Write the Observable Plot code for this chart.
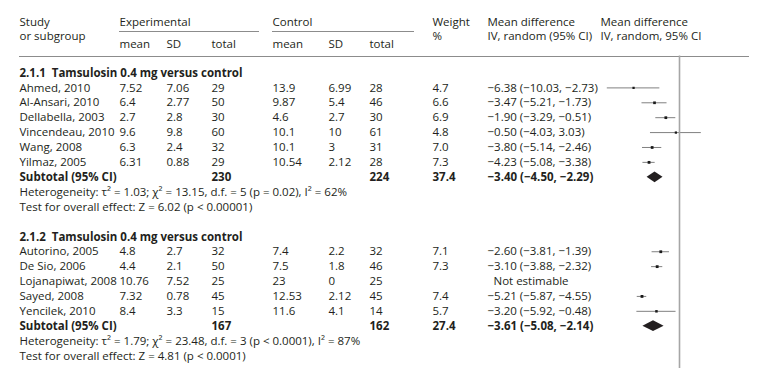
<!DOCTYPE html>
<html>
<head>
<meta charset="utf-8">
<script src="https://cdn.jsdelivr.net/npm/d3@7"></script>
<script src="https://cdn.jsdelivr.net/npm/@observablehq/plot@0.6"></script>
<style>
  html, body { margin: 0; padding: 0; background: #fff; }
  #chart { width: 765px; height: 368px; }
</style>
</head>
<body>
<div id="chart"></div>
<script>
// ---------- data ----------
const groupIds     = ["2.1.1", "2.1.2"];
const groupTitles  = ["2.1.1  Tamsulosin 0.4 mg versus control", "2.1.2  Tamsulosin 0.4 mg versus control"];
const studyGroup   = ["2.1.1","2.1.1","2.1.1","2.1.1","2.1.1","2.1.1","2.1.2","2.1.2","2.1.2","2.1.2","2.1.2"];
const studyNames   = ["Ahmed, 2010","Al-Ansari, 2010","Dellabella, 2003","Vincendeau, 2010","Wang, 2008","Yilmaz, 2005",
                      "Autorino, 2005","De Sio, 2006","Lojanapiwat, 2008","Sayed, 2008","Yencilek, 2010"];
const expMean      = ["7.52","6.4","2.7","9.6","6.3","6.31","4.8","4.4","10.76","7.32","8.4"];
const expSD        = ["7.06","2.77","2.8","9.8","2.4","0.88","2.7","2.1","7.52","0.78","3.3"];
const expTotal     = [29, 50, 30, 60, 32, 29, 32, 50, 25, 45, 15];
const ctlMean      = ["13.9","9.87","4.6","10.1","10.1","10.54","7.4","7.5","23","12.53","11.6"];
const ctlSD        = ["6.99","5.4","2.7","10","3","2.12","2.2","1.8","0","2.12","4.1"];
const ctlTotal     = [28, 46, 30, 61, 31, 28, 32, 46, 25, 45, 14];
const weight       = [4.7, 6.6, 6.9, 4.8, 7.0, 7.3, 7.1, 7.3, null, 7.4, 5.7];
const md           = [-6.38, -3.47, -1.90, -0.50, -3.80, -4.23, -2.60, -3.10, null, -5.21, -3.20];
const mdLow        = [-10.03, -5.21, -3.29, -4.03, -5.14, -5.08, -3.81, -3.88, null, -5.87, -5.92];
const mdHigh       = [-2.73, -1.73, -0.51, 3.03, -2.46, -3.38, -1.39, -2.32, null, -4.55, -0.48];

const subExpTotal  = [230, 167];
const subCtlTotal  = [224, 162];
const subWeight    = [37.4, 27.4];
const subMd        = [-3.40, -3.61];
const subLow       = [-4.50, -5.08];
const subHigh      = [-2.29, -2.14];
const heterogeneity = [
  "Heterogeneity: τ² = 1.03; χ² = 13.15, d.f. = 5 (p = 0.02), I² = 62%",
  "Heterogeneity: τ² = 1.79; χ² = 23.48, d.f. = 3 (p < 0.0001), I² = 87%"
];
const overallTest  = [
  "Test for overall effect: Z = 6.02 (p < 0.00001)",
  "Test for overall effect: Z = 4.81 (p < 0.0001)"
];
const axisDomain = [-10, 10];

// header labels per column (line 1, line 2)
const hdrStudy   = ["Study", "or subgroup"];
const hdrExp     = "Experimental";
const hdrCtl     = "Control";
const hdrSub     = ["mean", "SD", "total"];
const hdrWeight  = ["Weight", "%"];
const hdrMdText  = ["Mean difference", "IV, random (95% CI)"];
const hdrMdPlot  = ["Mean difference", "IV, random, 95% CI"];

// ---------- layout / styling ----------
const FONT = "'Open Sans', 'Noto Sans', sans-serif";
const FS = 11.5;
const INK = "#231f20";
const col = { study: 19, eMean: 119, eSD: 166, eTot: 211, cMean: 272, cSD: 328, cTot: 369,
              weight: 432, mdTxt: 487, notEst: 493, mdHead: 600 };
const hdr = { r1: -3.42, r2: -2.46, r3: -1.90, under: -2.79, line: -1.14 };

const f2 = d3.format(".2f");
const f1 = d3.format(".1f");
const ciText = (m, l, h) => `${f2(m)} (${f2(l)}, ${f2(h)})`;

// build table rows (row index = vertical slot)
const rows = [], subs = [], notes = [];
let r = 0;
groupIds.forEach((g, gi) => {
  notes.push({row: r++, text: groupTitles[gi], bold: true});
  studyNames.forEach((s, i) => {
    if (studyGroup[i] !== g) return;
    rows.push({row: r++, name: s, eM: expMean[i], eS: expSD[i], eT: expTotal[i],
      cM: ctlMean[i], cS: ctlSD[i], cT: ctlTotal[i], w: weight[i],
      md: md[i], lo: mdLow[i], hi: mdHigh[i]});
  });
  subs.push({row: r++, eT: subExpTotal[gi], cT: subCtlTotal[gi], w: subWeight[gi],
             md: subMd[gi], lo: subLow[gi], hi: subHigh[gi]});
  notes.push({row: r++, text: heterogeneity[gi], bold: false});
  notes.push({row: r++, text: overallTest[gi], bold: false});
  r++; // blank line between groups
});
const lastRow = r - 2;

const est = rows.filter(d => d.md != null);
const notEst = rows.filter(d => d.md == null);

// diamond outline derived from subtotal estimates
const dh = 0.36;
const diamonds = subs.flatMap((d, k) => [
  {k, y: d.row - dh, x1: d.md, x2: d.md},
  {k, y: d.row,      x1: d.lo, x2: d.hi},
  {k, y: d.row + dh, x1: d.md, x2: d.md}
]);

const two = pair => [{row: hdr.r1, t: pair[0]}, {row: hdr.r2, t: pair[1]}];

const textCol = (data, key, x, opts = {}) => Plot.text(data, {
  y: "row", text: key, frameAnchor: "left", textAnchor: "start", dx: x,
  fill: INK, fontSize: FS, ...opts
});

// table rules drawn in pixel layout
const tableRules = (index, scales) => {
  const g = d3.create("svg:g").attr("stroke", "#8c8c8c").attr("stroke-width", 1);
  const y = scales.y;
  const seg = (x1, x2, yy) => g.append("line").attr("x1", x1).attr("x2", x2)
    .attr("y1", Math.round(y(yy)) + 0.5).attr("y2", Math.round(y(yy)) + 0.5);
  seg(col.eMean, 259, hdr.under);
  seg(col.cMean, 414, hdr.under);
  seg(col.study, 749, hdr.line);
  return g.node();
};

const sub3 = [col.eMean, col.eSD, col.eTot, col.cMean, col.cSD, col.cTot];

const chart = Plot.plot({
  width: 765,
  height: 368,
  margin: 0,
  style: { fontFamily: FONT, fontSize: FS + "px", background: "#fff" },
  x: { domain: axisDomain, range: [607, 751], axis: null },
  y: { domain: [0, lastRow], range: [72.5, 355.5], axis: null },
  r: { domain: [0, 7.4], range: [0, 1.6] },
  marks: [
    tableRules,
    // header texts
    textCol(two(hdrStudy), "t", col.study),
    textCol([{row: hdr.r1, t: hdrExp}], "t", col.eMean),
    textCol([{row: hdr.r1, t: hdrCtl}], "t", col.cMean),
    ...sub3.map((x, i) => textCol([{row: hdr.r3, t: hdrSub[i % 3]}], "t", x)),
    textCol(two(hdrWeight), "t", col.weight),
    textCol(two(hdrMdText), "t", col.mdTxt),
    textCol(two(hdrMdPlot), "t", col.mdHead),
    // group headings and notes
    textCol(notes.filter(d => d.bold), "text", col.study, {fontWeight: "bold"}),
    textCol(notes.filter(d => !d.bold), "text", col.study),
    // study rows
    textCol(rows, "name", col.study),
    textCol(rows, "eM", col.eMean),
    textCol(rows, "eS", col.eSD),
    textCol(rows, "eT", col.eTot),
    textCol(rows, "cM", col.cMean),
    textCol(rows, "cS", col.cSD),
    textCol(rows, "cT", col.cTot),
    textCol(est, d => f1(d.w), col.weight),
    textCol(est, d => ciText(d.md, d.lo, d.hi), col.mdTxt),
    textCol(notEst, () => "Not estimable", col.notEst),
    // subtotal rows
    textCol(subs, () => "Subtotal (95% CI)", col.study, {fontWeight: "bold"}),
    textCol(subs, "eT", col.eTot, {fontWeight: "bold"}),
    textCol(subs, "cT", col.cTot, {fontWeight: "bold"}),
    textCol(subs, d => f1(d.w), col.weight, {fontWeight: "bold"}),
    textCol(subs, d => ciText(d.md, d.lo, d.hi), col.mdTxt, {fontWeight: "bold"}),
    // forest
    Plot.ruleY(est, {y: "row", x1: "lo", x2: "hi", stroke: "#808080", strokeWidth: 1}),
    Plot.dot(est, {x: "md", y: "row", r: "w", symbol: "square", fill: "#1a1a1a", stroke: "none"}),
    Plot.areaX(diamonds, {y: "y", x1: "x1", x2: "x2", z: "k", fill: INK, curve: "linear"}),
    Plot.ruleX([0], {y1: hdr.line, y2: lastRow + 0.9, stroke: "#a6a6a6", strokeWidth: 1.6})
  ]
});

document.getElementById("chart").appendChild(chart);
</script>
</body>
</html>
